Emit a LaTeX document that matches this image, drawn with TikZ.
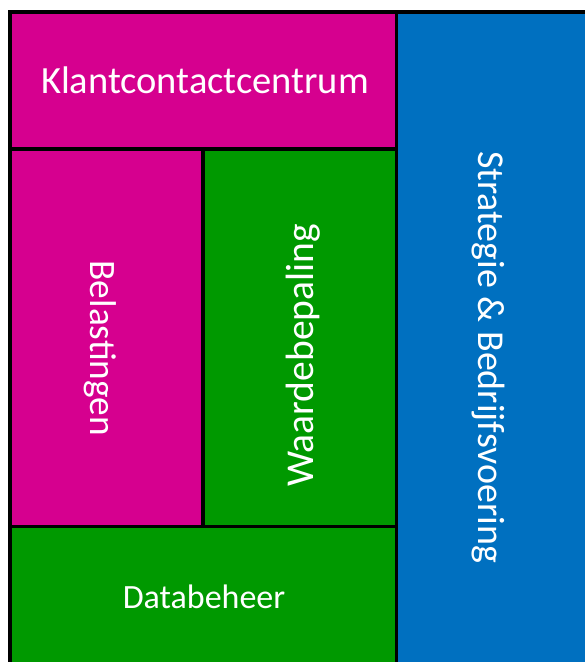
\documentclass[tikz,border=0pt]{standalone}
\usepackage{fontspec}
\setmainfont{Carlito}
\definecolor{kmag}{RGB}{214,0,143}
\definecolor{kgreen}{RGB}{0,153,0}
\definecolor{kblue}{RGB}{0,112,192}
\begin{document}
\begin{tikzpicture}[x=1pt,y=-1pt,
  lbl/.style={text=white,inner sep=0pt},
  sep/.style={draw=black,line width=3.6pt}]
\useasboundingbox (0,0) rectangle (585,662);
\fill[white] (0,0) rectangle (585,662);
% blocks
\fill[kmag] (10,12) rectangle (396.5,149);
\fill[kmag] (10,149) rectangle (203,526.5);
\fill[kgreen] (203,149) rectangle (396.5,526.5);
\fill[kgreen] (10,526.5) rectangle (396.5,662);
\fill[kblue] (396.5,12) rectangle (585,662);
% separators
\coordinate (tl) at (10,12);
\coordinate (tr) at (585,12);
\coordinate (bl) at (10,662);
\coordinate (mt) at (396.5,12);
\coordinate (mb) at (396.5,662);
\coordinate (h1l) at (10,149);
\coordinate (h1r) at (396.5,149);
\coordinate (v2t) at (203,149);
\coordinate (v2b) at (203,526.5);
\coordinate (h2l) at (10,526.5);
\coordinate (h2r) at (396.5,526.5);
\draw[sep,line cap=rect] (bl) -- (tl) -- (tr);
\draw[sep] (mt) -- (mb);
\draw[sep] (h1l) -- (h1r);
\draw[sep] (v2t) -- (v2b);
\draw[sep] (h2l) -- (h2r);
% labels
\node[lbl,anchor=base,font=\fontsize{38.5}{42}\selectfont] (kcc) at (205,93.3) {Klantcontactcentrum};
\node[lbl,anchor=base,rotate=-90,font=\fontsize{37.3}{42}\selectfont] (bel) at (90,348.3) {Belastingen};
\node[lbl,anchor=base,rotate=90,font=\fontsize{39.5}{42}\selectfont] (wb) at (313,355.5) {Waardebepaling};
\node[lbl,anchor=base,rotate=-90,font=\fontsize{38}{42}\selectfont] (sb) at (478,357) {Strategie \& Bedrijfsvoering};
\node[lbl,anchor=base,font=\fontsize{34}{36}\selectfont] (db) at (204,608.3) {Databeheer};
\end{tikzpicture}
\end{document}
